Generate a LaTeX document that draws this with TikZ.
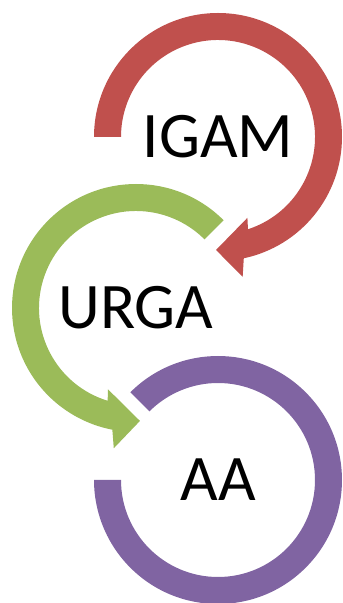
\documentclass[tikz,border=0pt]{standalone}
\usepackage{fontspec}
\setmainfont{Carlito}
\usetikzlibrary{calc}
\definecolor{igamred}{HTML}{C0504D}
\definecolor{urgagreen}{HTML}{9BBB59}
\definecolor{aapurple}{HTML}{8064A2}
\begin{document}
\begin{tikzpicture}[x=1pt, y=1pt,
      ringtext/.style = { inner sep=0pt, text=black,
        font=\fontsize{65}{78}\selectfont }]
    \useasboundingbox (0,0) rectangle (343,603);
    \node [ringtext] (igam) at (218,466) {IGAM};
    \node [ringtext] (urga) at (136,295) {URGA};
    \node [ringtext] (aa) at (218,123) {AA};
    % circular arrows round the nodes
    \fill [igamred] (igam.center) ++(180:124) arc[start angle=180, end angle=-78, radius=124]
      -- ($(igam.center)+(-80:142)$) -- ($(igam.center)+(-91:113)$)
      -- ($(igam.center)+(-70:86)$) -- ($(igam.center)+(-72:97)$)
      arc[start angle=-72, end angle=180, radius=97] -- cycle;
    \fill [urgagreen] (urga.center) ++(45:124) arc[start angle=45, end angle=259, radius=124]
      -- ($(urga.center)+(261:142)$) -- ($(urga.center)+(272:113)$)
      -- ($(urga.center)+(251:86)$) -- ($(urga.center)+(253:97)$)
      arc[start angle=253, end angle=45, radius=97] -- cycle;
    \fill [aapurple] (aa.center) ++(135:124) arc[start angle=135, end angle=-180, radius=124]
      -- ($(aa.center)+(180:97)$) arc[start angle=-180, end angle=135, radius=97] -- cycle;
\end{tikzpicture}
\end{document}
